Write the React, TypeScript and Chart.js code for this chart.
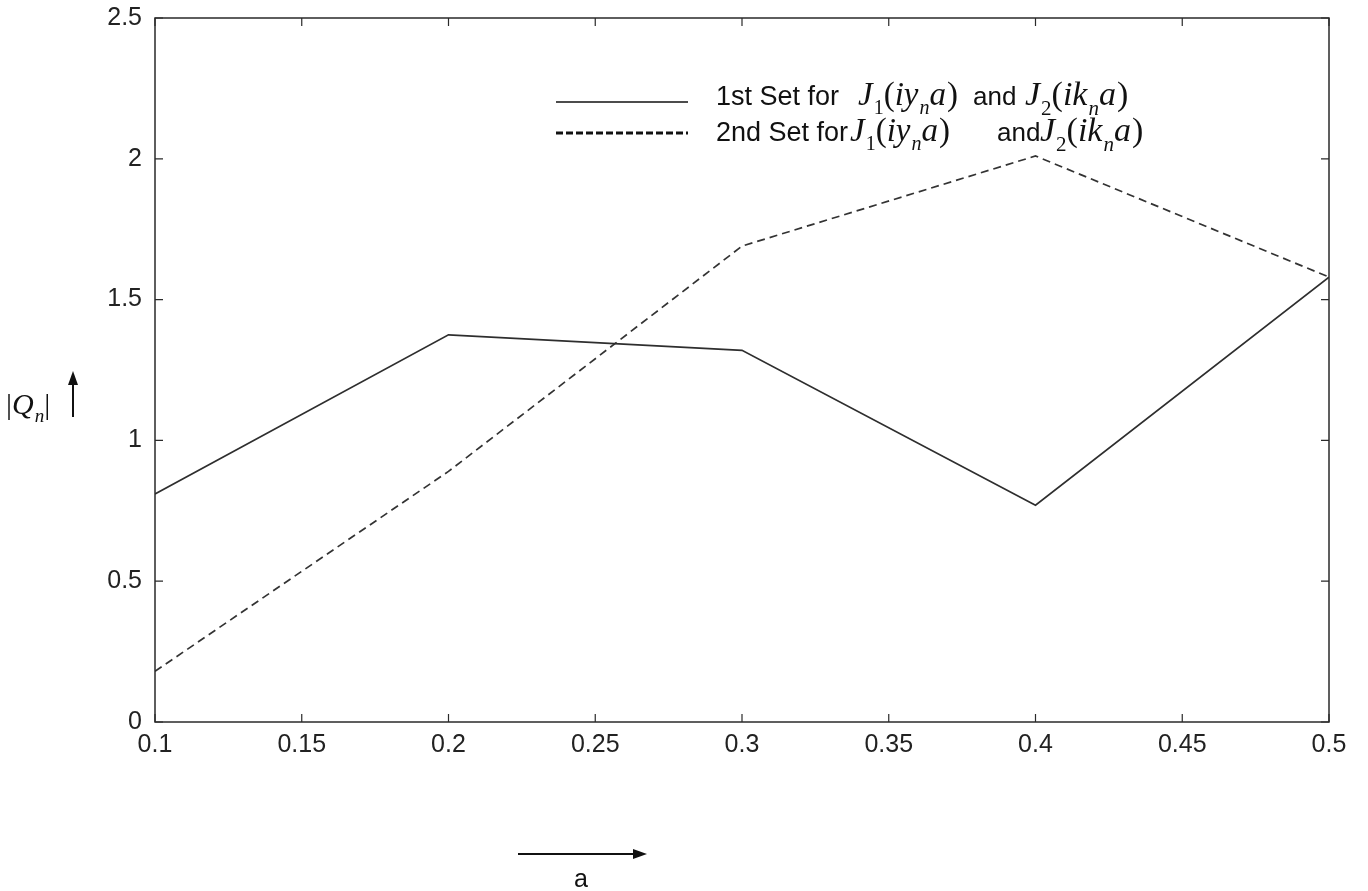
import React, { useEffect, useRef } from "react";
import { Chart, registerables } from "chart.js";

Chart.register(...registerables);

const aValues = [0.1, 0.2, 0.3, 0.4, 0.5];
const set1Values = [0.81, 1.375, 1.32, 0.77, 1.58];
const set2Values = [0.18, 0.89, 1.69, 2.01, 1.58];
const xTickStep = 0.05;
const yTickStep = 0.5;
const legendRows = [
  { prefix: "1st Set for", dashed: false },
  { prefix: "2nd Set for", dashed: true },
];

const SANS = '"Liberation Sans", Arial, sans-serif';
const SERIF = '"Liberation Serif", "Times New Roman", serif';

type Seg = { t: string; it?: boolean; sub?: boolean };

function drawMath(ctx: CanvasRenderingContext2D, segs: Seg[], x: number, y: number, size: number) {
  let cx = x;
  for (const s of segs) {
    const fs = s.sub ? Math.round(size * 0.62) : size;
    ctx.font = `${s.it ? "italic " : ""}${fs}px ${SERIF}`;
    const dy = s.sub ? size * 0.28 : 0;
    ctx.fillText(s.t, cx, y + dy);
    cx += ctx.measureText(s.t).width + (s.it && !s.sub ? 1 : 0);
  }
  return cx;
}

const J1: Seg[] = [
  { t: "J", it: true }, { t: "1", sub: true }, { t: "(" }, { t: "iy", it: true },
  { t: "n", it: true, sub: true }, { t: "a", it: true }, { t: ")" },
];
const J2: Seg[] = [
  { t: "J", it: true }, { t: "2", sub: true }, { t: "(" }, { t: "ik", it: true },
  { t: "n", it: true, sub: true }, { t: "a", it: true }, { t: ")" },
];

const decorPlugin = {
  id: "decor",
  afterDraw(chart: any) {
    const ctx: CanvasRenderingContext2D = chart.ctx;
    const { left, right, top, bottom } = chart.chartArea;
    const xs = chart.scales.x;
    const ys = chart.scales.y;
    ctx.save();
    // box
    ctx.strokeStyle = "#2a2a2a";
    ctx.lineWidth = 1.5;
    ctx.strokeRect(left, top, right - left, bottom - top);
    // inward ticks
    const tl = 8;
    ctx.lineWidth = 1.2;
    ctx.beginPath();
    xs.ticks.forEach((t: any) => {
      const px = xs.getPixelForValue(t.value);
      ctx.moveTo(px, bottom); ctx.lineTo(px, bottom - tl);
      ctx.moveTo(px, top); ctx.lineTo(px, top + tl);
    });
    ys.ticks.forEach((t: any) => {
      const py = ys.getPixelForValue(t.value);
      ctx.moveTo(left, py); ctx.lineTo(left + tl, py);
      ctx.moveTo(right, py); ctx.lineTo(right - tl, py);
    });
    ctx.stroke();

    // legend
    ctx.fillStyle = "#111";
    ctx.textBaseline = "alphabetic";
    const lineY = [102, 133];
    const baseY = [105, 141];
    legendRows.forEach((row, i) => {
      const y = lineY[i];
      ctx.beginPath();
      ctx.strokeStyle = "#111";
      if (row.dashed) {
        ctx.lineWidth = 3;
        ctx.setLineDash([7, 3]);
      } else {
        ctx.lineWidth = 1.6;
        ctx.setLineDash([]);
      }
      ctx.moveTo(556, y);
      ctx.lineTo(688, y);
      ctx.stroke();
      ctx.setLineDash([]);
      const base = baseY[i];
      ctx.font = `27px ${SANS}`;
      ctx.fillText(row.prefix, 716, base);
      if (i === 0) {
        drawMath(ctx, J1, 858, base, 33);
        ctx.font = `26px ${SANS}`;
        ctx.fillText("and", 973, base);
        drawMath(ctx, J2, 1025, base, 34);
      } else {
        drawMath(ctx, J1, 850, base, 33);
        ctx.font = `26px ${SANS}`;
        ctx.fillText("and", 997, base);
        drawMath(ctx, J2, 1040, base, 34);
      }
    });

    // y title: |Q_n| with up arrow
    ctx.fillStyle = "#111";
    drawMath(ctx, [{ t: "|" }, { t: "Q", it: true }, { t: "n", it: true, sub: true }, { t: "|" }], 6, 414, 30);
    ctx.strokeStyle = "#111";
    ctx.lineWidth = 2;
    ctx.beginPath();
    ctx.moveTo(73, 417); ctx.lineTo(73, 380);
    ctx.stroke();
    ctx.beginPath();
    ctx.moveTo(73, 371); ctx.lineTo(68, 385); ctx.lineTo(78, 385); ctx.closePath();
    ctx.fill();

    // x title: arrow and "a"
    ctx.lineWidth = 1.8;
    ctx.beginPath();
    ctx.moveTo(518, 854); ctx.lineTo(636, 854);
    ctx.stroke();
    ctx.beginPath();
    ctx.moveTo(647, 854); ctx.lineTo(633, 849); ctx.lineTo(633, 859); ctx.closePath();
    ctx.fill();
    ctx.font = `25px ${SANS}`;
    ctx.textAlign = "center";
    ctx.fillText("a", 581, 887);
    ctx.restore();
  },
};

export default function App() {
  const ref = useRef<HTMLCanvasElement | null>(null);
  useEffect(() => {
    if (!ref.current) return;
    const chart = new Chart(ref.current, {
      type: "line",
      data: {
        datasets: [
          {
            label: "1st Set",
            data: aValues.map((a, i) => ({ x: a, y: set1Values[i] })),
            borderColor: "#2e2e2e",
            borderWidth: 1.7,
            pointRadius: 0,
            tension: 0,
            fill: false,
          },
          {
            label: "2nd Set",
            data: aValues.map((a, i) => ({ x: a, y: set2Values[i] })),
            borderColor: "#333",
            borderWidth: 1.7,
            borderDash: [8, 5],
            pointRadius: 0,
            tension: 0,
            fill: false,
          },
        ],
      },
      options: {
        responsive: false,
        animation: false,
        layout: { padding: { left: 105, right: 39, top: 18, bottom: 119 } },
        plugins: { legend: { display: false }, tooltip: { enabled: false } },
        scales: {
          x: {
            type: "linear",
            min: 0.1,
            max: 0.5,
            grid: { display: false, drawTicks: false },
            border: { display: false },
            afterFit: (s: any) => { s.height = 50; s.paddingLeft = 0; s.paddingRight = 0; },
            ticks: {
              stepSize: xTickStep,
              padding: 8,
              color: "#222",
              font: { family: SANS, size: 25 },
              maxRotation: 0,
              autoSkip: false,
              callback: (v: any) => String(Number(Number(v).toFixed(2))),
            },
          },
          y: {
            min: 0,
            max: 2.5,
            grid: { display: false, drawTicks: false },
            border: { display: false },
            afterFit: (s: any) => { s.width = 50; s.paddingTop = 0; s.paddingBottom = 0; },
            ticks: {
              stepSize: yTickStep,
              padding: 13,
              color: "#222",
              font: { family: SANS, size: 25 },
              callback: (v: any) => String(Number(Number(v).toFixed(2))),
            },
          },
        },
      },
      plugins: [decorPlugin],
    } as any);
    return () => chart.destroy();
  }, []);
  return (
    <div style={{ position: "fixed", left: 0, top: 0, width: 1368, height: 891, background: "#fff" }}>
      <canvas ref={ref} width={1368} height={891} style={{ display: "block" }} />
    </div>
  );
}
